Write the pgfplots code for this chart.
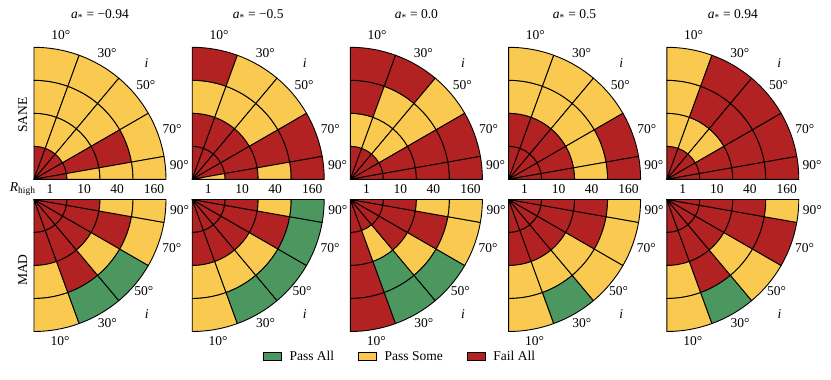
\documentclass[border=0pt]{standalone}
\usepackage{fontspec}
\setmainfont{Liberation Serif}
\usepackage{pgfplots}
\usepackage{pgfplotstable}
\pgfplotsset{compat=1.18}

\definecolor{cellF}{RGB}{178,34,34}
\definecolor{cellS}{RGB}{249,201,80}
\definecolor{cellP}{RGB}{76,150,96}

% one table per panel: rows = inclination i, columns r1..r4 = R_high 1, 10, 40, 160
% 0 = fail all, 1 = pass some, 2 = pass all
\pgfplotstableread{
inc r1 r2 r3 r4
10 0 1 1 1
30 0 1 1 1
50 0 1 1 1
70 0 0 0 1
90 0 1 1 1
}\saneA
\pgfplotstableread{
inc r1 r2 r3 r4
10 0 0 1 0
30 0 0 1 1
50 0 0 1 1
70 0 0 0 0
90 1 0 1 0
}\saneB
\pgfplotstableread{
inc r1 r2 r3 r4
10 0 1 0 0
30 0 1 1 0
50 0 1 1 1
70 0 0 0 0
90 0 0 0 0
}\saneC
\pgfplotstableread{
inc r1 r2 r3 r4
10 0 0 1 1
30 0 0 1 1
50 0 0 1 1
70 0 0 1 0
90 0 0 1 0
}\saneD
\pgfplotstableread{
inc r1 r2 r3 r4
10 0 1 1 1
30 0 1 0 0
50 0 1 0 0
70 0 0 0 0
90 0 0 0 0
}\saneE
\pgfplotstableread{
inc r1 r2 r3 r4
10 0 0 1 1
30 0 0 0 2
50 0 0 1 2
70 0 0 0 1
90 0 0 1 1
}\madA
\pgfplotstableread{
inc r1 r2 r3 r4
10 0 0 1 1
30 0 0 1 2
50 0 0 1 2
70 0 0 0 2
90 0 0 1 2
}\madB
\pgfplotstableread{
inc r1 r2 r3 r4
10 0 0 0 0
30 0 1 2 2
50 0 0 1 2
70 0 0 0 1
90 0 0 1 1
}\madC
\pgfplotstableread{
inc r1 r2 r3 r4
10 0 0 1 1
30 0 0 1 2
50 0 0 1 1
70 0 0 0 1
90 0 0 0 1
}\madD
\pgfplotstableread{
inc r1 r2 r3 r4
10 0 0 1 1
30 0 0 0 2
50 0 0 1 1
70 0 0 0 0
90 0 0 0 1
}\madE

% annular sector around the pole; i is measured from the vertical
\pgfdeclareplotmark{cell}{%
  \pgfmathsetmacro\tA{\sgn*max(0,80-\incl)}%
  \pgfmathsetmacro\tB{\sgn*min(90,100-\incl)}%
  \pgfmathsetmacro\rA{(\ringno-1)*33}%
  \pgfmathsetmacro\rB{\ringno*33}%
  \pgfmathtruncatemacro\k{\cls}%
  \ifcase\k \pgfsetfillcolor{cellF}\or \pgfsetfillcolor{cellS}\else \pgfsetfillcolor{cellP}\fi
  \pgfsetstrokecolor{black}%
  \pgfsetlinewidth{0.9pt}%
  \pgfsetroundjoin
  \pgfpathmoveto{\pgfpointpolar{\tA}{\rA pt}}%
  \pgfpathlineto{\pgfpointpolar{\tA}{\rB pt}}%
  \pgfpatharc{\tA}{\tB}{\rB pt}%
  \pgfpathlineto{\pgfpointpolar{\tB}{\rA pt}}%
  \ifdim\rA pt>0pt \pgfpatharc{\tB}{\tA}{\rA pt}\fi
  \pgfpathclose
  \pgfusepath{fill,stroke}%
}

\pgfplotsset{
  cellaxis/.style={hide axis, clip=false, x=33pt, y=33pt, xmin=0, xmax=4},
  sane/.style={cellaxis, ymin=0, ymax=4, anchor=south west},
  mad/.style={cellaxis, ymin=-4, ymax=0, anchor=north west},
}

\newcommand\cells[1]{%
  \pgfplotsinvokeforeach{1,2,3,4}{%
    \addplot[only marks, mark=cell, forget plot,
      visualization depends on={##1 \as \ringno},
      visualization depends on={\thisrow{inc} \as \incl},
      visualization depends on={\thisrow{r##1} \as \cls}]
      table[x expr=0, y expr=0] {#1};
  }%
}

\newcommand\ticks{%
  \node at (16pt,-10pt) {1};
  \node at (50pt,-10pt) {10};
  \node at (83pt,-10pt) {40};
  \node at (120pt,-10pt) {160};
}

\newcommand\sanepanel[3]{% table, pole x, spin
  \def\sgn{1}%
  \begin{axis}[sane, at={(#2pt,-179.3pt)}]
    \cells{#1}
  \end{axis}
  \begin{scope}[shift={(#2pt,-179.3pt)}]
    \node at (66pt,164.3pt) {{\itshape a}\textsubscript{*} = #3};
    \node at (79.5:147pt) {10°};
    \node at (60:146pt) {30°};
    \node at (46:162pt) {\itshape i};
    \node at (40:146pt) {50°};
    \node at (20:147pt) {70°};
    \node at (5.6:146pt) {90°};
    \ticks
  \end{scope}
}

\newcommand\madpanel[2]{% table, pole x
  \def\sgn{-1}%
  \begin{axis}[mad, at={(#2pt,-199.5pt)}]
    \cells{#1}
  \end{axis}
  \begin{scope}[shift={(#2pt,-199.5pt)}]
    \node at (-79.6:144pt) {10°};
    \node at (-59.4:144pt) {30°};
    \node at (-45.6:161pt) {\itshape i};
    \node at (-39.8:143pt) {50°};
    \node at (-19.3:146pt) {70°};
    \node at (-4.3:146pt) {90°};
  \end{scope}
}

\begin{document}
\begin{tikzpicture}[font=\fontsize{13.5}{16}\selectfont]
\useasboundingbox (0,0) rectangle (831pt,-380pt);

\sanepanel{\saneA}{34}{−0.94}
\sanepanel{\saneB}{192.2}{−0.5}
\sanepanel{\saneC}{350.4}{0.0}
\sanepanel{\saneD}{508.6}{0.5}
\sanepanel{\saneE}{666.8}{0.94}

\madpanel{\madA}{34}
\madpanel{\madB}{192.2}
\madpanel{\madC}{350.4}
\madpanel{\madD}{508.6}
\madpanel{\madE}{666.8}

\node at (22.7pt,-189.3pt) {{\itshape R}\textsubscript{high}};
\node[rotate=90] at (22.7pt,-115pt) {SANE};
\node[rotate=90] at (22.7pt,-270pt) {MAD};

\begin{axis}[hide axis, scale only axis, width=10pt, height=10pt,
    xmin=0, xmax=1, ymin=0, ymax=1,
    at={(400pt,-356.7pt)}, anchor=center,
    legend columns=3,
    legend style={at={(0.5,0.5)}, anchor=center, draw=none, fill=none,
      font=\fontsize{13.5}{16}\selectfont,
      /tikz/every odd column/.append style={column sep=6pt},
      /tikz/every even column/.append style={column sep=22pt}},
    legend image code/.code={\draw[#1, draw=black, line width=0.6pt] (0pt,-4pt) rectangle (18pt,4pt);}]
  \addlegendimage{fill=cellP}
  \addlegendentry{Pass All}
  \addlegendimage{fill=cellS}
  \addlegendentry{Pass Some}
  \addlegendimage{fill=cellF}
  \addlegendentry{Fail All}
\end{axis}
\end{tikzpicture}
\end{document}
